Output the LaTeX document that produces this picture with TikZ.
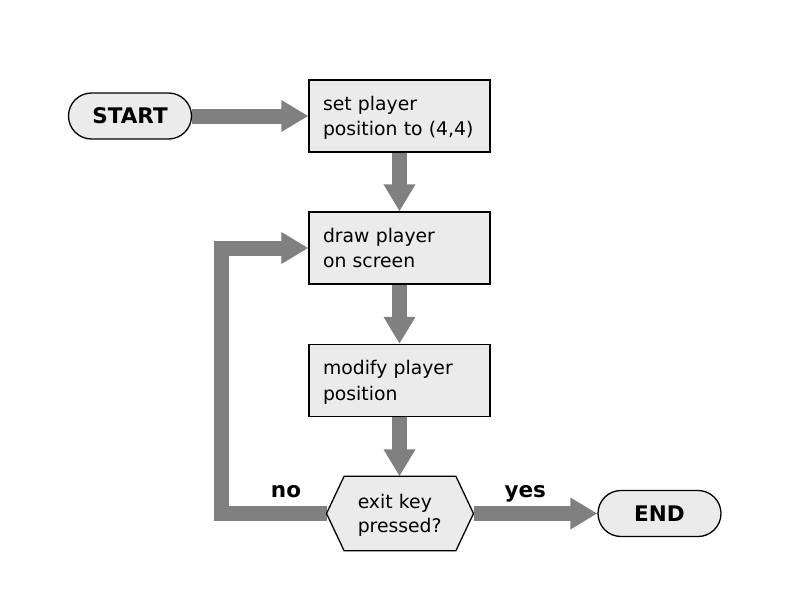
\documentclass[tikz,border=0pt]{standalone}
\usepackage{fontspec}
\setmainfont{DejaVu Sans}
\usetikzlibrary{arrows.meta}
\pgfdeclarelayer{back}
\pgfdeclarelayer{mid}
\pgfsetlayers{back,mid,main}
\definecolor{boxfill}{HTML}{EBEBEB}
\definecolor{flowgray}{HTML}{808080}
\tikzset{
  procbox/.style={draw=black, line width=1.3pt, fill=boxfill, rectangle,
    minimum width=181pt, minimum height=72pt, text width=153pt, align=left,
    inner xsep=14pt, inner ysep=0pt, text depth=25.5pt, font=\fontsize{18.8}{25.5}\selectfont},
  termbox/.style={draw=black, line width=1.3pt, fill=boxfill, rectangle,
    rounded corners=23pt, minimum width=123pt, minimum height=46pt,
    inner sep=0pt, font=\fontsize{21.5}{24}\selectfont\bfseries},
  hexbox/.style={rectangle, minimum width=146.6pt, minimum height=74pt,
    inner sep=0pt, text width=84.5pt, align=left, text depth=24.5pt,
    font=\fontsize{18.8}{24.5}\selectfont},
  hexshape/.style={draw=black, line width=1.3pt, fill=boxfill, line join=miter},
  flow/.style={draw=flowgray, line width=15pt, line join=miter,
    -{Triangle[length=27pt,width=30pt]}},
  lbl/.style={font=\fontsize{21.5}{24}\selectfont\bfseries, anchor=base, inner sep=0pt}
}
\begin{document}
\begin{tikzpicture}[x=1pt,y=-1pt]
\useasboundingbox (0,0) rectangle (800,610);
\node[termbox] (start) at (130,116) {START};
\node[procbox] (box1) at (399.5,116) {set player\\position to (4,4)};
\node[procbox] (box2) at (399.5,248) {draw player\\on screen};
\node[procbox] (box3) at (399.5,380.5) {modify player\\position};
\node[hexbox] (hex) at (400,513.5) {exit key\\pressed?};
\node[termbox] (end) at (659.5,513.5) {END};
\coordinate (loopx) at (221.5,0);
\begin{pgfonlayer}{mid}
\path[hexshape] (hex.west) -- ([xshift=17.6pt]hex.north west) -- ([xshift=-17.6pt]hex.north east)
  -- (hex.east) -- ([xshift=-17.6pt]hex.south east) -- ([xshift=17.6pt]hex.south west) -- cycle;
\end{pgfonlayer}
\begin{pgfonlayer}{back}
\draw[flow] (start) -- (box1);
\draw[flow] (box1) -- (box2);
\draw[flow] (box2) -- (box3);
\draw[flow] (box3.south) -- (box3.south |- hex.north);
\draw[flow] (hex.east) -- (end.west);
\draw[flow] (hex.west) -- (loopx |- hex.west) -- (loopx |- box2.west) -- (box2.west);
\end{pgfonlayer}
\node[lbl] (no) at (286,497) {no};
\node[lbl] (yes) at (525.3,497) {yes};
\end{tikzpicture}
\end{document}
